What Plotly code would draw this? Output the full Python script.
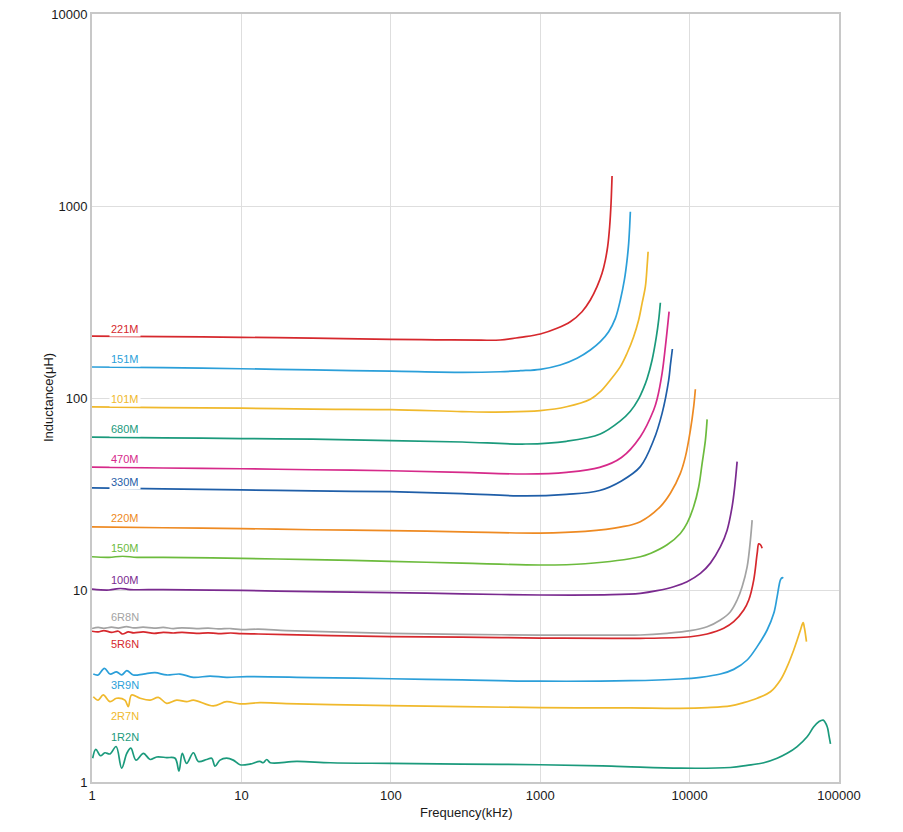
import math
import plotly.graph_objects as go

# ---------------- data (frequency in kHz, inductance in uH) ----------------
names = ["221M", "151M", "101M", "680M", "470M", "330M", "220M", "150M", "100M",
         "6R8N", "5R6N", "3R9N", "2R7N", "1R2N"]

colors = ["#d6282d", "#2b9fd9", "#f0b92c", "#1b9a7c", "#d62a8a", "#1f5ea8", "#ee8a22",
          "#6cbb3d", "#7a2a8f", "#a3a3a3", "#d6282d", "#2b9fd9", "#f0b92c", "#1b9a7c"]

f_221M = [1, 3, 10, 30, 100, 200, 400, 540, 736, 1002, 1296, 1591, 1905, 2166, 2401, 2594, 2729, 2828, 2916, 2980, 3027]
L_221M = [210, 209, 207, 205, 202, 201, 200, 200.5, 207, 215.4, 230.7, 249.6, 281.5, 323.9, 380, 446, 523, 614, 780, 1033, 1432]

f_151M = [1, 3, 10, 30, 100, 300, 540, 736, 1002, 1363, 1764, 2166, 2526, 2872, 3185, 3440, 3659, 3814, 3910, 3970, 4013]
L_151M = [145, 144, 142, 140, 138, 136, 137, 138.7, 141.1, 148.5, 161, 177.8, 196.5, 221.5, 260, 324, 412, 523, 639, 780, 934]

f_101M = [1, 3, 10, 30, 100, 300, 500, 1000, 1500, 2166, 2526, 2948, 3440, 3814, 4222, 4560, 4806, 5057, 5193, 5274]
L_101M = [89.8, 89, 88.5, 87.5, 87, 85, 84.5, 86, 90, 98.5, 107.8, 124.1, 145.6, 171, 208.6, 254.9, 311, 380, 483, 578]

f_680M = [1, 3, 10, 30, 100, 300, 800, 1500, 2525, 3440, 4000, 4560, 4905, 5193, 5610, 5992, 6209, 6373]
L_680M = [62.6, 62, 61.5, 61, 60, 59, 57.6, 59.5, 65, 76, 85, 99, 112, 126, 157.7, 208.6, 255, 313.6]

f_470M = [1, 3, 10, 30, 100, 300, 800, 1500, 2500, 3500, 4680, 5750, 6056, 6543, 6886, 7290]
L_470M = [43.7, 43.2, 42.8, 42.3, 41.8, 41, 40.2, 41, 43.5, 49, 62.9, 86.6, 98.5, 134.5, 185, 281.5]

f_330M = [1, 3, 10, 30, 100, 300, 800, 1500, 2500, 3500, 4680, 5750, 6543, 7245, 7450, 7670]
L_330M = [34, 33.6, 33.2, 32.8, 32.5, 31.8, 30.9, 31.5, 33, 37, 43.9, 60.4, 83.2, 124, 150, 180]

f_220M = [1, 3, 10, 30, 100, 300, 1000, 2000, 3500, 4680, 6373, 7435, 8670, 9375, 10125, 10650, 10930]
L_220M = [21.3, 21.1, 20.9, 20.6, 20.4, 20.1, 19.8, 20.2, 21.3, 22.7, 27.2, 31.9, 40.5, 49.5, 68.1, 90.1, 111]

f_150M = [1, 1.3, 1.6, 2, 3, 10, 30, 100, 300, 1000, 2000, 4680, 5460, 7070, 8670, 9620, 10650, 11510, 12130, 12760, 13100]
L_150M = [14.9, 14.8, 15.0, 14.8, 14.8, 14.6, 14.4, 14.1, 13.8, 13.5, 13.7, 14.9, 15.5, 17.2, 19.7, 22.3, 27.2, 34.5, 45.7, 60.4, 77.4]

f_100M = [1, 1.3, 1.55, 1.8, 3, 10, 30, 100, 300, 1000, 3000, 4680, 6056, 7826, 9620, 11810, 13780, 16080, 17830, 19260, 20050, 20800]
L_100M = [10.1, 10.0, 10.2, 10.05, 10.05, 9.95, 9.8, 9.7, 9.55, 9.42, 9.45, 9.61, 9.92, 10.4, 11.05, 12.2, 13.8, 16.8, 20.5, 27.2, 34.5, 46.6]

f_6R8N = [1, 1.1, 1.2, 1.35, 1.5, 1.7, 1.9, 2.2, 2.6, 3, 3.5, 4, 5, 6, 7, 8.5, 10, 13, 20, 40, 100, 300, 1000, 3000, 4680, 7070, 10125, 13100, 16080, 18760, 20800, 22470, 24270, 25530, 26220]
L_6R8N = [6.30, 6.38, 6.32, 6.40, 6.33, 6.45, 6.35, 6.40, 6.33, 6.38, 6.30, 6.35, 6.30, 6.33, 6.27, 6.30, 6.22, 6.25, 6.15, 6.05, 5.95, 5.88, 5.82, 5.82, 5.83, 5.95, 6.14, 6.44, 6.98, 7.71, 8.87, 10.4, 13.2, 18.2, 23.1]

f_5R6N = [1, 1.1, 1.2, 1.35, 1.5, 1.6, 1.75, 1.9, 2.2, 2.6, 3, 3.5, 4, 5, 6, 7, 8.5, 10, 13, 20, 40, 100, 300, 1000, 3000, 4680, 10125, 13100, 16920, 19740, 23030, 24890, 26880, 28330, 29040, 29800, 30590]
L_5R6N = [6.10, 6.05, 6.15, 6.02, 6.10, 5.90, 6.05, 5.98, 6.05, 5.95, 6.02, 5.97, 6.02, 5.95, 5.98, 5.93, 5.97, 5.92, 5.90, 5.85, 5.78, 5.72, 5.68, 5.62, 5.60, 5.60, 5.71, 5.90, 6.32, 6.84, 7.87, 8.87, 11.3, 15.5, 17.4, 17.2, 16.5]

f_3R9N = [1.02, 1.10, 1.21, 1.32, 1.46, 1.58, 1.71, 1.89, 2.21, 2.64, 3.16, 3.88, 4.77, 6.17, 7.96, 10.9, 30, 100, 300, 1000, 4000, 8670, 11810, 16080, 19740, 24270, 28330, 33040, 36590, 38550, 40560, 41660, 42290]
L_3R9N = [3.65, 3.61, 3.91, 3.65, 3.75, 3.61, 3.80, 3.61, 3.65, 3.71, 3.61, 3.65, 3.51, 3.56, 3.51, 3.54, 3.50, 3.45, 3.40, 3.35, 3.37, 3.44, 3.51, 3.65, 3.86, 4.32, 5.07, 6.19, 7.56, 9.23, 11.3, 11.6, 11.5]

f_2R7N = [1.02, 1.10, 1.19, 1.32, 1.46, 1.66, 1.75, 1.84, 2.10, 2.45, 2.78, 3.16, 3.69, 4.30, 4.77, 6.48, 7.96, 9.79, 13.3, 20, 40, 100, 300, 1000, 4000, 8670, 13100, 18760, 23030, 28330, 34760, 40560, 44980, 49780, 52480, 55220, 57540, 58740, 60580]
L_2R7N = [2.78, 2.67, 2.84, 2.62, 2.73, 2.67, 2.47, 2.84, 2.73, 2.67, 2.76, 2.57, 2.67, 2.62, 2.67, 2.49, 2.62, 2.55, 2.59, 2.56, 2.53, 2.50, 2.47, 2.44, 2.43, 2.42, 2.44, 2.49, 2.59, 2.73, 2.95, 3.40, 3.99, 4.87, 5.49, 6.19, 6.76, 6.32, 5.38]

f_1R2N = [1.01, 1.06, 1.14, 1.22, 1.32, 1.45, 1.58, 1.71, 1.82, 1.97, 2.21, 2.45, 2.71, 3.16, 3.60, 3.82, 4.02, 4.30, 4.77, 5.15, 5.86, 6.33, 6.66, 7.19, 7.96, 8.82, 9.79, 11.4, 13.3, 14.0, 14.8, 15.6, 23.5, 39.4, 100, 300, 1000, 3000, 8670, 18760, 24270, 31360, 38550, 44980, 52480, 61200, 67790, 73250, 78370, 83370, 85480, 87700]
L_1R2N = [1.33, 1.48, 1.37, 1.42, 1.40, 1.53, 1.18, 1.41, 1.50, 1.30, 1.41, 1.31, 1.35, 1.34, 1.33, 1.14, 1.41, 1.25, 1.42, 1.28, 1.31, 1.33, 1.21, 1.30, 1.33, 1.30, 1.23, 1.24, 1.28, 1.26, 1.31, 1.26, 1.28, 1.26, 1.25, 1.24, 1.23, 1.21, 1.18, 1.19, 1.22, 1.26, 1.33, 1.41, 1.53, 1.72, 1.94, 2.06, 2.10, 1.94, 1.76, 1.58]

freqs = [f_221M, f_151M, f_101M, f_680M, f_470M, f_330M, f_220M, f_150M, f_100M,
         f_6R8N, f_5R6N, f_3R9N, f_2R7N, f_1R2N]
values = [L_221M, L_151M, L_101M, L_680M, L_470M, L_330M, L_220M, L_150M, L_100M,
          L_6R8N, L_5R6N, L_3R9N, L_2R7N, L_1R2N]

# label positions (data units)
label_x = 1.3
label_y = [228.8, 159.7, 98.8, 69.0, 48.1, 36.5, 23.7, 16.5, 11.3, 7.23, 5.23, 3.20, 2.21, 1.71]

x_tick_vals = [1, 10, 100, 1000, 10000, 100000]
x_tick_text = ["1", "10", "100", "1000", "10000", "100000"]
y_tick_vals = [1, 10, 100, 1000, 10000]
y_tick_text = ["1", "10", "100", "1000", "10000"]

x_title = "Frequency(kHz)"
y_title = "Inductance(μH)"

# ---------------- figure ----------------
fig = go.Figure()
for n, c, fx, ly in zip(names, colors, freqs, values):
    fig.add_trace(go.Scatter(x=fx, y=ly, mode="lines", name=n,
                             line=dict(color=c, width=1.7, shape="spline", smoothing=1.0),
                             hoverinfo="x+y+name"))

# annotations on log axes are positioned in log10 units
for n, c, yv in zip(names, colors, label_y):
    fig.add_annotation(x=math.log10(label_x), y=math.log10(yv), xref="x", yref="y",
                       text=n, showarrow=False, xanchor="left", yanchor="middle",
                       font=dict(family="Liberation Sans, Arial", size=11, color=c),
                       bgcolor="white", borderpad=1)

txt_color = "#1a1a1a"
fig.add_annotation(x=0.5, y=0, xref="paper", yref="paper", text=x_title, showarrow=False,
                   xanchor="center", yanchor="middle", yshift=-30,
                   font=dict(size=13, color=txt_color))
fig.add_annotation(x=0, y=0.5, xref="paper", yref="paper", text=y_title, showarrow=False,
                   xanchor="center", yanchor="middle", xshift=-44, textangle=-90,
                   font=dict(size=13, color=txt_color))

font_family = "Liberation Sans, Arial, Helvetica"
fig.update_layout(
    width=903, height=832, autosize=False,
    margin=dict(l=92, r=64, t=14, b=50, autoexpand=False),
    paper_bgcolor="white", plot_bgcolor="white",
    showlegend=False,
    font=dict(family=font_family, size=13, color=txt_color),
    xaxis=dict(type="log", range=[0, 5], tickvals=x_tick_vals, ticktext=x_tick_text,
               showgrid=True, gridcolor="#dedede", gridwidth=1,
               showline=True, linecolor="#c8c8c8", linewidth=2, mirror=True,
               ticks="", zeroline=False, automargin=False,
               tickfont=dict(size=13, color=txt_color)),
    yaxis=dict(type="log", range=[0, 4], tickvals=y_tick_vals, ticktext=y_tick_text,
               showgrid=True, gridcolor="#dedede", gridwidth=1,
               showline=True, linecolor="#c8c8c8", linewidth=2, mirror=True,
               ticks="", zeroline=False, automargin=False,
               tickfont=dict(size=13, color=txt_color)),
)

fig.write_html("out.html")
